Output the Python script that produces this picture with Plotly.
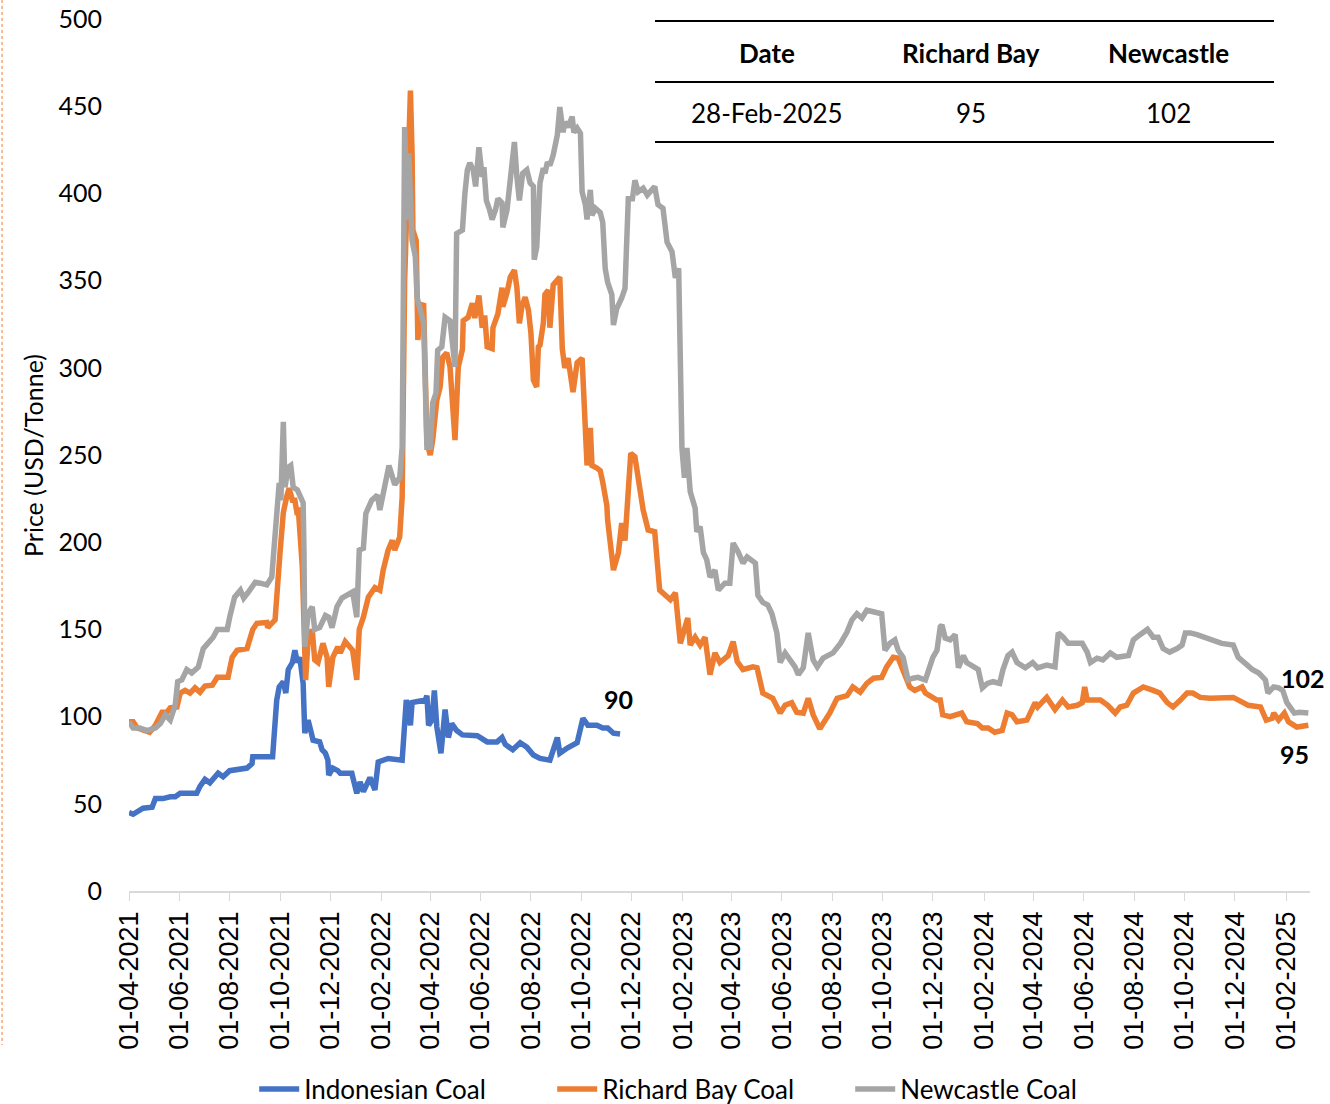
import pandas as pd
import plotly.graph_objects as go

# Coal benchmark prices (USD/tonne); dates are day offsets from the series start
start_date = "2021-04-01"

indo_days = [0, 5, 17, 28, 32, 41, 50, 56, 62, 82, 86, 92, 98, 108, 114, 122, 143, 149, 150, 174,
             179, 182, 187, 190, 193, 198, 201, 204, 207, 211, 213, 217, 221, 223, 231, 234, 238, 241,
             242, 247, 253, 256, 270, 276, 280, 284, 292, 298, 302, 310, 314, 331, 336, 341, 343, 359,
             361, 363, 367, 370, 373, 378, 383, 387, 391, 397, 404, 422, 434, 446, 452, 456, 465, 474,
             482, 490, 498, 510, 514, 519, 522, 531, 543, 550, 556, 567, 574, 580, 587, 595]
indo_price = [45, 44, 47.5, 48, 53, 53, 54, 54, 56, 56, 60, 64, 62, 67.5, 65.5, 69, 70.5, 73, 77, 77,
              109.5, 117, 120, 113.5, 127, 131, 138, 131, 134, 119, 90.5, 98, 90.5, 86.5, 85.5, 81, 79, 75,
              66.5, 70.5, 69, 67.5, 67.5, 56, 62.5, 57, 65, 58, 74, 75, 76, 75, 109.5, 95, 108, 109.5,
              112, 95, 98, 115, 94, 79, 104, 88, 96, 92, 89.5, 89, 85.5, 85.5, 88, 84, 81, 85,
              82.5, 78, 76, 75, 82, 88, 79, 82, 85, 99, 95, 95, 93.5, 93.5, 90.5, 90]

rb_days = [0, 5, 10, 25, 32, 40, 46, 50, 58, 62, 68, 74, 80, 86, 92, 101, 107, 120, 125, 131,
           143, 150, 155, 167, 168, 177, 183, 187, 191, 194, 198, 201, 204, 205, 210, 214, 217, 222, 225, 229,
           235, 240, 242, 247, 253, 256, 262, 268, 271, 276, 279, 284, 290, 298, 304, 308, 314, 319, 322, 328,
           331, 334, 337, 341, 343, 344, 348, 350, 354, 357, 361, 365, 368, 373, 377, 380, 385, 389, 395, 399,
           404, 405, 411, 416, 419, 424, 428, 431, 434, 440, 441, 447, 452, 453, 458, 462, 467, 470, 473, 476,
           480, 484, 487, 490, 494, 496, 498, 502, 504, 507, 508, 510, 514, 522, 525, 528, 532, 538, 543, 549,
           553, 555, 559, 561, 567, 571, 574, 577, 579, 580, 587, 593, 597, 601, 608, 613, 617, 623, 629, 637,
           643, 656, 662, 668, 677, 680, 686, 692, 698, 704, 710, 716, 726, 732, 737, 744, 756, 761, 768, 780,
           789, 795, 803, 809, 817, 823, 829, 837, 849, 858, 870, 877, 886, 894, 902, 912, 918, 926, 932, 937,
           940, 946, 952, 961, 965, 971, 979, 983, 986, 995, 1003, 1009, 1015, 1028, 1034, 1041, 1049, 1058, 1064, 1070,
           1076, 1088, 1094, 1098, 1101, 1112, 1122, 1131, 1138, 1149, 1155, 1158, 1161, 1177, 1186, 1195, 1201, 1209, 1217, 1229,
           1241, 1249, 1258, 1265, 1274, 1282, 1289, 1298, 1310, 1322, 1338, 1350, 1356, 1371, 1378, 1385, 1387, 1393, 1400, 1405,
           1415, 1429]
rb_price = [97, 97, 93.5, 91, 95, 102.5, 102.5, 105, 105.5, 113.5, 115, 113.5, 116.5, 114, 117.5, 118, 122.5, 122.5, 134, 138,
            139, 150, 153.5, 154, 151, 155.5, 194, 217, 226, 231, 224, 224, 215.5, 220, 186, 121, 144, 150, 132.5, 131,
            142, 134, 117, 134, 140, 136.5, 143, 140, 138, 121, 150, 157, 168.5, 174, 172.5, 184, 195.5, 201, 195.5, 203,
            226, 350, 407, 459, 423, 379, 373, 316, 335, 337, 257, 250, 258.5, 281.5, 289, 306, 308.5, 300.5, 258.5, 300.5,
            310.5, 327, 329, 337, 328.5, 341.5, 323, 330, 312, 311, 323, 331, 346, 335, 343, 352, 356, 346, 325.5, 335,
            340.5, 333, 320, 293, 289, 312, 313, 325.5, 342, 343.5, 344.5, 323, 347.5, 352, 311, 300, 305.5, 286, 303, 305.5,
            265.5, 244, 265.5, 244, 242.5, 241, 234.5, 226, 221, 212.5, 184, 194, 211, 201, 251, 249, 236, 218.5, 207, 206,
            172.5, 167, 171, 142, 156.5, 141, 145.5, 141, 145.5, 124, 136.5, 131, 135, 143, 131.5, 127, 128.5, 128, 113.5, 110.5,
            102, 106.5, 108, 102.5, 102, 110.5, 101, 93, 102, 110.5, 112, 117, 114, 119, 122, 122.5, 128.5, 134, 133.5, 127,
            125, 117, 115, 117, 113.5, 112, 109.5, 109.5, 101, 100, 101, 102, 97, 96, 93.5, 93.5, 91, 92, 102, 101,
            97, 98, 104, 108, 105.5, 111, 104, 109.5, 105.5, 106.5, 108, 117, 109.5, 109.5, 106.5, 102, 105.5, 106.5, 113.5, 117,
            115, 113.5, 108, 105.5, 109.5, 113.5, 113.5, 111, 110.5, 111, 111, 108, 106.5, 105.5, 98, 99, 102, 98, 102, 97,
            94, 95]

nc_days = [0, 5, 13, 22, 32, 38, 44, 50, 56, 59, 64, 70, 76, 84, 90, 96, 102, 107, 119, 122,
           128, 135, 139, 144, 153, 159, 167, 173, 176, 179, 182, 184, 187, 189, 193, 196, 199, 204, 207, 211,
           212, 213, 217, 222, 225, 231, 238, 242, 246, 250, 252, 258, 265, 271, 276, 279, 284, 287, 294, 301,
           304, 310, 313, 315, 322, 328, 331, 334, 337, 339, 343, 347, 349, 355, 357, 361, 365, 368, 372, 374,
           379, 383, 389, 395, 397, 404, 405, 407, 410, 413, 417, 420, 424, 428, 430, 433, 437, 440, 444, 447,
           452, 453, 458, 462, 464, 467, 470, 473, 477, 482, 486, 490, 491, 494, 498, 502, 504, 507, 510, 514,
           519, 522, 526, 528, 532, 537, 539, 543, 547, 549, 553, 555, 559, 561, 565, 571, 574, 577, 580, 585,
           587, 591, 597, 601, 605, 610, 613, 617, 623, 628, 637, 641, 647, 652, 658, 662, 666, 670, 673, 676,
           680, 686, 688, 692, 696, 700, 704, 710, 714, 722, 728, 732, 738, 744, 749, 759, 762, 768, 774, 779,
           785, 789, 795, 801, 807, 811, 817, 823, 829, 834, 841, 853, 862, 870, 876, 882, 888, 894, 906, 912,
           916, 922, 928, 932, 938, 944, 950, 956, 965, 971, 974, 979, 983, 985, 989, 995, 1001, 1005, 1011, 1015,
           1025, 1029, 1034, 1040, 1047, 1055, 1059, 1065, 1070, 1076, 1086, 1095, 1101, 1112, 1122, 1126, 1132, 1138, 1146, 1155,
           1161, 1165, 1173, 1180, 1189, 1197, 1211, 1217, 1225, 1234, 1241, 1247, 1253, 1261, 1270, 1276, 1280, 1286, 1294, 1306,
           1316, 1324, 1338, 1344, 1355, 1361, 1369, 1377, 1380, 1387, 1393, 1398, 1403, 1412, 1418, 1429]
nc_price = [97, 93.5, 93.5, 92, 93.5, 96, 101, 98, 106.5, 120, 121, 127, 125, 128.5, 139, 142, 145.5, 150, 150, 157,
            168.5, 172.5, 168, 171, 177, 176.5, 175.5, 180, 197, 209, 234, 224, 269, 231.5, 243, 244, 231.5, 230, 226, 222.5,
            195.5, 140, 159, 163, 150, 151, 158, 157, 151, 159, 163, 168, 170, 171.5, 157, 195.5, 196.5, 216.5, 224, 227,
            218.5, 231.5, 239.5, 244, 233, 237, 254.5, 438, 385, 423, 373, 363.5, 340.5, 327, 325.5, 254.5, 254.5, 280, 285.5, 310,
            312, 329, 327, 300.5, 377, 379, 390.5, 400, 413.5, 417.5, 413.5, 404, 426.5, 409.5, 415, 396, 390.5, 385, 390.5, 397,
            394.5, 380.5, 390.5, 407.5, 415, 429.5, 409.5, 396, 411.5, 413.5, 406, 404, 362, 369, 406, 414.5, 411.5, 418, 416, 422,
            433.5, 449.5, 435, 441, 438, 444, 435, 437.5, 434.5, 401, 393.5, 385, 402, 387.5, 391.5, 389, 383.5, 357, 349, 342,
            324.5, 334, 340, 345.5, 397, 397, 407.5, 401, 403, 399, 404, 393.5, 391.5, 372, 366.5, 351.5, 357, 254, 237, 254,
            229, 219.5, 206, 209, 194, 190, 180, 184, 172.5, 176.5, 176.5, 199.5, 194.5, 188, 191.5, 188, 169.5, 165.5, 164, 159,
            148, 131, 136.5, 132.5, 128.5, 124, 128, 148, 132.5, 128.5, 133.5, 136.5, 142, 148.5, 155.5, 159, 156.5, 161, 160, 159,
            138, 142, 144, 138, 134, 121, 122, 122.5, 121, 128.5, 134, 138, 151.5, 152.5, 145, 144, 147, 128, 135, 131,
            128.5, 127, 116.5, 119, 120, 119, 127, 135, 137, 131, 128, 131, 128, 129.5, 128.5, 148, 145.5, 142, 142, 142,
            137, 131, 133.5, 132.5, 136.5, 134, 135, 144, 147, 150, 145.5, 145.5, 139, 137, 139, 141, 148, 148, 147, 145,
            143, 142, 141, 134, 129.5, 127, 125, 121, 113.5, 117, 116.5, 115, 108, 102, 102.5, 102]

# Latest quotes shown in the summary table
table_date = "28-Feb-2025"
table_header = ["Date", "Richard Bay", "Newcastle"]

series = [
    ("Indonesian Coal", indo_days, indo_price, "#4472C4"),
    ("Richard Bay Coal", rb_days, rb_price, "#ED7D31"),
    ("Newcastle Coal", nc_days, nc_price, "#A5A5A5"),
]

t0 = pd.Timestamp(start_date)


def to_dates(days):
    return t0 + pd.to_timedelta(days, unit="D")


fig = go.Figure()
for name, days, price, color in series:
    fig.add_trace(go.Scatter(
        x=to_dates(days), y=price, name=name, mode="lines",
        line=dict(color=color, width=5.5),
    ))

label_font = "Lato, 'Open Sans', sans-serif"

# End-of-series value labels
end_labels = [
    (indo_days, indo_price, -2, 35),
    (nc_days, nc_price, -5, 35),
    (rb_days, rb_price, -14, -29),
]
for days, price, dx, dy in end_labels:
    fig.add_annotation(
        x=to_dates([days[-1]])[0], y=price[-1], text=f"<b>{price[-1]:g}</b>",
        showarrow=False, xshift=dx, yshift=dy, xanchor="center", yanchor="middle",
        font=dict(family=label_font, size=25, color="#000000"),
    )

# Summary table drawn in paper coordinates at top right of the plot
tx0, tx1 = 0.4454, 0.9695
for yl in (0.9977, 0.9278, 0.8589):
    fig.add_shape(type="line", xref="paper", yref="paper", x0=tx0, x1=tx1, y0=yl, y1=yl,
                  line=dict(color="#000000", width=2))
col_x = [0.5402, 0.713, 0.8806]
row_vals = [table_date, f"{rb_price[-1]:g}", f"{nc_price[-1]:g}"]
for cx, head, val in zip(col_x, table_header, row_vals):
    fig.add_annotation(xref="paper", yref="paper", x=cx, y=0.961, text=f"<b>{head}</b>",
                       showarrow=False, xanchor="center", yanchor="middle",
                       font=dict(family=label_font, size=26, color="#000000"))
    fig.add_annotation(xref="paper", yref="paper", x=cx, y=0.8922, text=val,
                       showarrow=False, xanchor="center", yanchor="middle",
                       font=dict(family=label_font, size=26, color="#000000"))

# Axis title
fig.add_annotation(xref="paper", yref="paper", x=-0.0813, y=0.5, text="Price (USD/Tonne)",
                   textangle=-90, showarrow=False, xanchor="center", yanchor="middle",
                   font=dict(family=label_font, size=25, color="#000000"))

# Dotted page border on the left
fig.add_shape(type="line", xref="paper", yref="paper", x0=-0.1075, x1=-0.1075, y0=1.0218, y1=-0.1766,
              line=dict(color="#ED7D31", width=1, dash="dot"))

fig.update_layout(
    template="none",
    width=1330, height=1104,
    margin=dict(l=129, r=20, t=19, b=213, autoexpand=False),
    paper_bgcolor="white", plot_bgcolor="white",
    showlegend=True,
    legend=dict(orientation="h", yref="container", x=0.4845, xanchor="center",
                y=0.0136, yanchor="middle",
                font=dict(family=label_font, size=26, color="#000000"),
                entrywidth=243, itemwidth=40, bgcolor="rgba(0,0,0,0)"),
    xaxis=dict(
        type="date", range=["2021-04-01", "2025-03-02"], automargin=False,
        tick0="2021-04-01", dtick="M2", tickformat="%d-%m-%Y", tickangle=-90,
        showline=True, linecolor="#D9D9D9", linewidth=1.5,
        ticks="outside", tickcolor="#D9D9D9", ticklen=8,
        showgrid=False, zeroline=False,
        tickfont=dict(family="'Liberation Sans', Arial, sans-serif", size=27, color="#000000"),
    ),
    yaxis=dict(
        range=[0, 500], dtick=50, showgrid=False, zeroline=False, showline=False,
        ticks="", ticklabelstandoff=26, automargin=False,
        tickfont=dict(family=label_font, size=25, color="#000000"),
    ),
)

fig.write_html("out.html")
